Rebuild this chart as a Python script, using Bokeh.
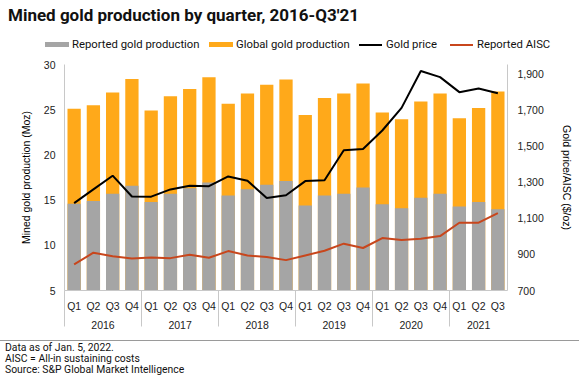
from bokeh.plotting import figure
from bokeh.layouts import column
from bokeh.models import (Range1d, LinearAxis, FixedTicker, NumeralTickFormatter,
                          ColumnDataSource, Div)
from bokeh.embed import file_html
from bokeh.resources import INLINE

# ---------------- data ----------------
years = ["2016", "2017", "2018", "2019", "2020", "2021"]
quarters = ["Q1", "Q2", "Q3", "Q4"]
periods = [(y, q) for y in years for q in quarters][:23]

reported_production = [14.6, 14.9, 15.7, 16.6, 14.8, 15.7, 16.3, 16.95, 15.5, 16.2, 16.7, 17.1,
                       14.4, 15.5, 15.7, 16.4, 14.55, 14.1, 15.25, 15.7, 14.3, 14.8, 14.0]
global_production = [25.1, 25.5, 26.9, 28.4, 24.9, 26.5, 27.3, 28.6, 25.65, 26.8, 27.75, 28.35,
                     24.4, 26.3, 26.8, 27.9, 24.7, 23.95, 25.9, 26.8, 24.05, 25.2, 27.0]
gold_price = [1183, 1259, 1335, 1220, 1219, 1259, 1279, 1277, 1331, 1307, 1212, 1227,
              1305, 1310, 1476, 1483, 1585, 1710, 1914, 1880, 1797, 1817, 1791]
reported_aisc = [844, 909, 890, 877, 883, 879, 898, 881, 918, 894, 885, 868,
                 894, 920, 959, 935, 990, 979, 986, 1001, 1075, 1075, 1128]

left_ticks = [5, 10, 15, 20, 25, 30]
right_ticks = [700, 900, 1100, 1300, 1500, 1700, 1900]

series_names = ["Reported gold production", "Global gold production", "Gold price", "Reported AISC"]
footnotes = ["Data as of Jan. 5, 2022.",
             "AISC = All-in sustaining costs",
             "Source: S&P Global Market Intelligence"]
title_text = "Mined gold production by quarter, 2016-Q3'21"

# ---------------- styles / layout ----------------
GRAY = "#A5A5A5"
ORANGE = "#FFA91A"
RED = "#C8461C"
AXIS = "#C8C8C8"
TICK_FONT = "Liberation Sans"
TXT_FONT = "Roboto"
W = 579
HEAD_H, MAIN_H, FOOT_H = 52, 285, 46
legend_x = [45, 209, 359, 450]          # swatch left edges (px)
legend_colors = [GRAY, ORANGE, "black", RED]
legend_is_bar = [True, True, False, False]
SW = 24                                  # swatch width (px)

# category slots: period i occupies [i, i+1]
n = len(periods)
xpos = [i + 0.5 for i in range(n)]
boundaries = [i for i in range(n) if i == 0 or periods[i][0] != periods[i - 1][0]]
group_centers = []
for k, b in enumerate(boundaries):
    e = boundaries[k + 1] if k + 1 < len(boundaries) else n
    group_centers.append((b + e) / 2)

src = ColumnDataSource(dict(x=xpos, rep=reported_production, glob=global_production,
                            gold=gold_price, aisc=reported_aisc))

# ---------------- header: title + legend (HTML) ----------------
parts = [f'<div style="position:relative;width:{W}px;height:{HEAD_H}px;font-family:{TXT_FONT};color:#111111;">',
         f'<div style="position:absolute;left:8px;top:5px;font-size:17px;line-height:21px;'
         f'font-weight:bold;white-space:nowrap;">{title_text}</div>']
for x, name, col, is_bar in zip(legend_x, series_names, legend_colors, legend_is_bar):
    h = 5 if is_bar else 2
    top = 44.5 - h / 2
    parts.append(f'<div style="position:absolute;left:{x}px;top:{top}px;width:{SW if is_bar else SW - 1}px;'
                 f'height:{h}px;background:{col};"></div>')
    parts.append(f'<div style="position:absolute;left:{x + SW + 3}px;top:37.5px;font-size:11.3px;'
                 f'line-height:14px;white-space:nowrap;">{name}</div>')
parts.append('</div>')
head = Div(text="".join(parts), width=W, height=HEAD_H, margin=0)

# ---------------- main chart ----------------
p = figure(x_range=Range1d(0, n), y_range=Range1d(left_ticks[0], left_ticks[-1]),
           width=W, height=MAIN_H, x_axis_type=None, title=None,
           min_border_left=64, min_border_right=72, min_border_top=12, min_border_bottom=47,
           output_backend="svg", toolbar_location=None, tools="")
p.outline_line_color = None
p.xgrid.visible = False
p.ygrid.visible = False
p.extra_y_ranges = {"price": Range1d(700, 1950)}

p.vbar(x="x", top="glob", bottom=left_ticks[0], width=0.69, source=src,
       fill_color=ORANGE, line_color=None)
p.vbar(x="x", top="rep", bottom=left_ticks[0], width=0.69, source=src,
       fill_color=GRAY, line_color=None)
p.line(x="x", y="gold", source=src, y_range_name="price", line_color="black", line_width=2)
p.line(x="x", y="aisc", source=src, y_range_name="price", line_color=RED, line_width=2)


def style_axis(ax):
    ax.axis_line_color = AXIS
    ax.major_tick_line_color = None
    ax.major_tick_out = 0
    ax.major_tick_in = 0
    ax.minor_tick_line_color = None
    ax.minor_tick_out = 0
    ax.minor_tick_in = 0
    ax.major_label_text_font = TICK_FONT
    ax.major_label_text_font_size = "10.5px"
    ax.major_label_text_color = "#222222"
    ax.major_label_standoff = 9
    ax.axis_label_text_font = TICK_FONT
    ax.axis_label_text_font_size = "10.5px"
    ax.axis_label_text_font_style = "normal"
    ax.axis_label_text_color = "black"


ya = p.yaxis[0]
ya.ticker = FixedTicker(ticks=left_ticks)
ya.axis_label = "Mined gold production (Moz)"
style_axis(ya)
ya.axis_label_standoff = 9

ra = LinearAxis(y_range_name="price", ticker=FixedTicker(ticks=right_ticks),
                formatter=NumeralTickFormatter(format="0,0"),
                axis_label="Gold price/AISC ($/oz)")
style_axis(ra)
ra.major_label_standoff = 10
ra.axis_label_standoff = 14
p.add_layout(ra, "right")

# quarter labels (first row)
qa = LinearAxis(ticker=FixedTicker(ticks=xpos),
                major_label_overrides={x: q for x, (_, q) in zip(xpos, periods)})
style_axis(qa)
qa.major_label_standoff = 9

# year labels (second row); year separators drawn as its minor ticks, reaching up to the plot
ya2 = LinearAxis(ticker=FixedTicker(ticks=group_centers, minor_ticks=boundaries),
                 major_label_overrides={c: y for c, y in zip(group_centers, years)})
style_axis(ya2)
ya2.axis_line_color = None
ya2.minor_tick_line_color = AXIS
ya2.minor_tick_in = 24
ya2.minor_tick_out = 12
ya2.major_label_standoff = -6

p.add_layout(qa, "below")
p.add_layout(ya2, "below")

# ---------------- footer: rule and notes (HTML) ----------------
fparts = [f'<div style="position:relative;width:{W}px;height:{FOOT_H}px;font-family:{TXT_FONT};color:#111111;">',
          f'<div style="position:absolute;left:0px;top:3px;width:{W}px;height:0px;'
          f'border-top:1px solid #9A9A9A;"></div>']
for i, t in enumerate(footnotes):
    fparts.append(f'<div style="position:absolute;left:5px;top:{11.3 + 10.9 * i - 6}px;font-size:10.4px;'
                  f'line-height:12px;white-space:nowrap;">{t}</div>')
fparts.append('</div>')
foot = Div(text="".join(fparts), width=W, height=FOOT_H, margin=0)

layout = column(head, p, foot, spacing=0)
open("out.html", "w").write(file_html(layout, INLINE))
